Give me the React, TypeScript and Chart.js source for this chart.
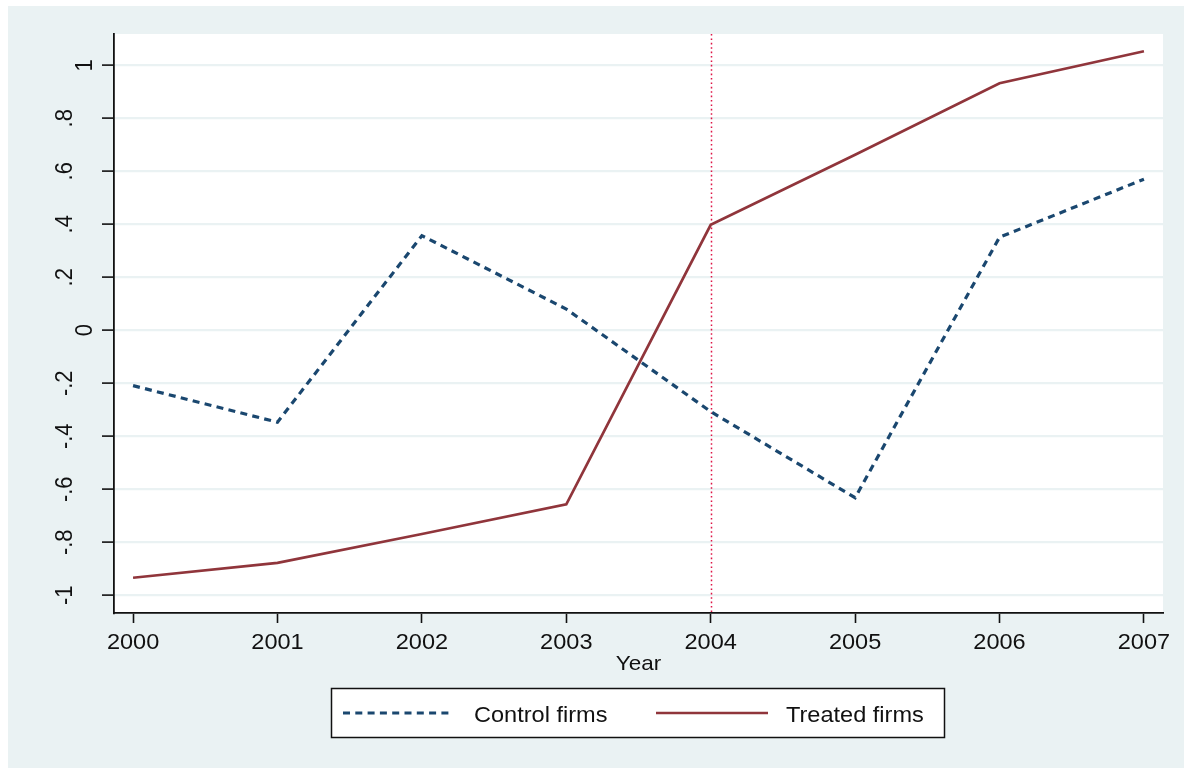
import React, { useEffect, useRef } from "react";
import { Chart, registerables } from "chart.js";

Chart.register(...registerables);

// ---- data ----
const years = [2000, 2001, 2002, 2003, 2004, 2005, 2006, 2007];
const controlFirms = [-0.209, -0.347, 0.357, 0.08, -0.307, -0.632, 0.351, 0.57];
const treatedFirms = [-0.934, -0.878, -0.769, -0.657, 0.398, 0.662, 0.932, 1.053];
const seriesLabels = ["Control firms", "Treated firms"];
const yTickValues = [-1, -0.8, -0.6, -0.4, -0.2, 0, 0.2, 0.4, 0.6, 0.8, 1];
const yTickLabels = ["-1", "-.8", "-.6", "-.4", "-.2", "0", ".2", ".4", ".6", ".8", "1"];
const xTickLabels = years.map(String);
const treatmentYear = 2004;
const xAxisTitle = "Year";

// ---- styling ----
const W = 1184;
const H = 768;
const BG = "rgb(234,242,243)";
const INK = "#111111";
const NAVY = "rgb(26,71,111)";
const MAROON = "rgb(144,53,59)";
const FONT = "'Liberation Sans', Arial, sans-serif";
const TEXT_STRETCH = 1.07;

function drawText(
  ctx: CanvasRenderingContext2D,
  text: string,
  x: number,
  y: number,
  size: number,
  align: CanvasTextAlign,
  vertical = false
) {
  ctx.save();
  ctx.translate(x, y);
  ctx.scale(TEXT_STRETCH, 1);
  if (vertical) ctx.rotate(-Math.PI / 2);
  ctx.font = `${size}px ${FONT}`;
  ctx.textAlign = align;
  ctx.textBaseline = "alphabetic";
  ctx.fillStyle = INK;
  ctx.fillText(text, 0, 0);
  ctx.restore();
}

const backgroundPlugin = {
  id: "panelBackground",
  beforeDraw(chart: any) {
    const { ctx, width, height, chartArea } = chart;
    ctx.save();
    ctx.fillStyle = "#ffffff";
    ctx.fillRect(0, 0, width, height);
    ctx.fillStyle = BG;
    ctx.fillRect(8, 6, width - 8, height - 6);
    ctx.fillStyle = "#ffffff";
    ctx.fillRect(
      chartArea.left,
      chartArea.top,
      chartArea.right - chartArea.left,
      chartArea.bottom - chartArea.top
    );
    ctx.restore();
  },
};

const treatmentLinePlugin = {
  id: "treatmentLine",
  beforeDatasetsDraw(chart: any) {
    const { ctx, chartArea, scales } = chart;
    const x = Math.round(scales.x.getPixelForValue(treatmentYear)) + 0.5;
    ctx.save();
    ctx.strokeStyle = "rgb(222,20,70)";
    ctx.lineWidth = 1.5;
    ctx.setLineDash([1.6, 2.8]);
    ctx.beginPath();
    ctx.moveTo(x, chartArea.top);
    ctx.lineTo(x, chartArea.bottom);
    ctx.stroke();
    ctx.restore();
  },
};

const labelsPlugin = {
  id: "axisLabelsAndLegend",
  afterDraw(chart: any) {
    const { ctx, chartArea, scales } = chart;

    // x tick labels
    years.forEach((v, i) => {
      drawText(ctx, xTickLabels[i], scales.x.getPixelForValue(v), 649, 22, "center");
    });
    // x axis title
    drawText(ctx, xAxisTitle, (chartArea.left + chartArea.right) / 2, 670, 21, "center");

    // y tick labels, rotated; single-character labels sit nearer the axis
    yTickValues.forEach((v, i) => {
      const label = yTickLabels[i];
      const bx = label.length > 1 ? 72 : 92;
      drawText(ctx, label, bx, scales.y.getPixelForValue(v), 22, "center", true);
    });

    // legend box
    const box = { x: 331, y: 688, w: 614, h: 50 };
    ctx.save();
    ctx.fillStyle = "#ffffff";
    ctx.fillRect(box.x, box.y, box.w, box.h);
    ctx.strokeStyle = INK;
    ctx.lineWidth = 1.5;
    ctx.strokeRect(box.x + 0.5, box.y + 0.5, box.w - 1, box.h - 1);
    ctx.restore();

    const entries = [
      { x0: 343, x1: 453, tx: 474 },
      { x0: 656, x1: 768, tx: 786 },
    ];
    chart.data.datasets.forEach((ds: any, i: number) => {
      const e = entries[i];
      const ly = 713;
      ctx.save();
      ctx.strokeStyle = ds.borderColor;
      ctx.lineWidth = ds.borderWidth;
      ctx.setLineDash(ds.borderDash || []);
      ctx.beginPath();
      ctx.moveTo(e.x0, ly);
      ctx.lineTo(e.x1, ly);
      ctx.stroke();
      ctx.restore();
      drawText(ctx, ds.label, e.tx, 722, 22, "left");
    });
  },
};

export default function App() {
  const canvasRef = useRef<HTMLCanvasElement | null>(null);

  useEffect(() => {
    document.body.style.margin = "0";
    const canvas = canvasRef.current;
    if (!canvas) return;

    const chart = new Chart(canvas, {
      type: "line",
      data: {
        datasets: [
          {
            label: seriesLabels[0],
            data: years.map((x, i) => ({ x, y: controlFirms[i] })),
            borderColor: NAVY,
            borderWidth: 3.2,
            borderDash: [7, 5.3],
            pointRadius: 0,
            tension: 0,
            fill: false,
          },
          {
            label: seriesLabels[1],
            data: years.map((x, i) => ({ x, y: treatedFirms[i] })),
            borderColor: MAROON,
            borderWidth: 2.7,
            pointRadius: 0,
            tension: 0,
            fill: false,
          },
        ],
      },
      options: {
        responsive: false,
        animation: false,
        events: [],
        layout: { padding: { left: 0, top: 34, right: 21, bottom: 0 } },
        plugins: {
          legend: { display: false },
          tooltip: { enabled: false },
          title: { display: false },
        },
        scales: {
          x: {
            type: "linear",
            min: 1999.868,
            max: 2007.132,
            afterBuildTicks: (s: any) => {
              s.ticks = years.map((v) => ({ value: v }));
            },
            afterFit: (s: any) => {
              s.height = 155;
            },
            ticks: { display: false },
            grid: {
              drawOnChartArea: false,
              drawTicks: true,
              tickLength: 10,
              tickColor: INK,
              tickWidth: 1.6,
              color: INK,
            },
            border: { display: true, color: INK, width: 1.8 },
          },
          y: {
            type: "linear",
            min: -1.067,
            max: 1.118,
            afterBuildTicks: (s: any) => {
              s.ticks = yTickValues.map((v) => ({ value: v }));
            },
            afterFit: (s: any) => {
              s.width = 114;
            },
            ticks: { display: false },
            grid: {
              color: BG,
              lineWidth: 2.2,
              drawTicks: true,
              tickLength: 12,
              tickColor: INK,
              tickWidth: 1.6,
            },
            border: { display: true, color: INK, width: 1.8 },
          },
        },
      },
      plugins: [backgroundPlugin, treatmentLinePlugin, labelsPlugin],
    });

    return () => {
      chart.destroy();
    };
  }, []);

  return (
    <div style={{ width: W, height: H }}>
      <canvas ref={canvasRef} width={W} height={H} style={{ display: "block" }} />
    </div>
  );
}
